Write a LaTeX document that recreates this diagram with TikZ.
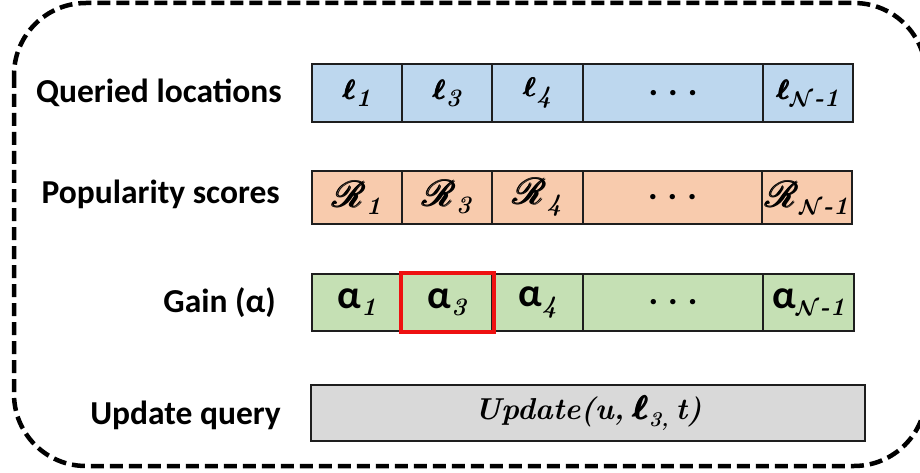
\documentclass[tikz,border=0pt]{standalone}
\usepackage{amsmath,amssymb}
\usepackage{mathrsfs}
\usepackage{graphicx}
\usepackage{fontspec}
\newfontfamily\calib{Carlito}

\definecolor{qblue}{HTML}{BDD7EE}
\definecolor{porange}{HTML}{F8CBAD}
\definecolor{ggreen}{HTML}{C5E0B4}
\definecolor{ugray}{HTML}{D9D9D9}
\definecolor{cellline}{HTML}{1E1E1E}
\definecolor{hilite}{HTML}{EE1111}

% cell glyphs
\newcommand{\bell}{\scalebox{1.3}{\fontsize{20.74}{24}\selectfont$\pmb{\boldsymbol{\ell}}$}}
\newcommand{\scrR}{\scalebox{1.75}{\fontsize{20.74}{24}\selectfont$\pmb{\mathscr{R}}$}}
\newcommand{\cellalpha}{{\calib\bfseries\fontsize{40}{42}\selectfont α}}
\newcommand{\cellsub}[1]{\raisebox{-7pt}{\scalebox{1.45}{\fontsize{17.28}{19}\selectfont\bfseries\itshape #1}}}
\newcommand{\nidx}{\scalebox{0.85}{$\boldsymbol{\mathcal{N}}$}\kern0.5pt-1}
\newcommand{\threedots}{{\calib\bfseries\fontsize{36}{38}\selectfont .\hspace{10pt}.\hspace{10pt}.}}

\tikzset{
  rowlabel/.style={anchor=east, font=\calib\bfseries\fontsize{33.5}{36}\selectfont, inner sep=0pt},
  cellbox/.style={draw=cellline, line width=1.6pt, inner sep=0pt, anchor=center},
  locrow/.style={cellbox, fill=qblue, minimum height=58pt},
  poprow/.style={cellbox, fill=porange, minimum height=53pt},
  gainrow/.style={cellbox, fill=ggreen, minimum height=57pt},
  updrow/.style={cellbox, fill=ugray, minimum height=56pt},
  frame/.style={line width=4.5pt, dash pattern=on 13pt off 6pt, rounded corners=72pt},
  pick/.style={draw=hilite, line width=3.8pt}
}

\begin{document}
\begin{tikzpicture}[x=1pt,y=-1pt]
\useasboundingbox (0,0) rectangle (920,473);

% outer dashed frame
\draw[frame] (14,3) rectangle (926,466);

% row labels
\node[rowlabel] (lq) at (282,93)  {Queried locations};
\node[rowlabel] (lp) at (280,194) {Popularity scores};
\node[rowlabel] (lg) at (276,303) {Gain (α)};
\node[rowlabel] (lu) at (281,415) {Update query};

% queried locations
\node[locrow, minimum width=90pt]  (l1) at (357,93)   {\bell\cellsub{1}};
\node[locrow, minimum width=90pt]  (l3) at (447,93)   {\bell\cellsub{3}};
\node[locrow, minimum width=91pt]  (l4) at (537.5,93) {\bell\cellsub{4}};
\node[locrow, minimum width=180pt] (ld) at (673,93)   {\threedots};
\node[locrow, minimum width=90pt]  (ln) at (808,93)   {\bell\cellsub{\nidx}};

% popularity scores
\node[poprow, minimum width=90pt]  (p1) at (357,197.5)   {\scrR\cellsub{1}};
\node[poprow, minimum width=90pt]  (p3) at (447,197.5)   {\scrR\cellsub{3}};
\node[poprow, minimum width=91pt]  (p4) at (537.5,197.5) {\scrR\cellsub{4}};
\node[poprow, minimum width=179pt] (pd) at (672.5,197.5) {\threedots};
\node[poprow, minimum width=90pt]  (pn) at (807,197.5)   {\scrR\cellsub{\nidx}};

% gain
\node[gainrow, minimum width=90pt]  (a1) at (357,302.5)   {\cellalpha\cellsub{1}};
\node[gainrow, minimum width=90pt]  (a3) at (447,302.5)   {\cellalpha\cellsub{3}};
\node[gainrow, minimum width=91pt]  (a4) at (537.5,302.5) {\cellalpha\cellsub{4}};
\node[gainrow, minimum width=180pt] (ad) at (673,302.5)   {\threedots};
\node[gainrow, minimum width=91pt]  (an) at (808.5,302.5) {\cellalpha\cellsub{\nidx}};
\draw[pick] ([xshift=-0.5pt]a3.south west) rectangle ([xshift=1pt,yshift=0.5pt]a3.north east);

% update query
\node[updrow, minimum width=554pt] (uq) at (588,413)
  {\scalebox{1.75}{\bfseries\itshape\fontsize{17.28}{19}\selectfont Update(u,\kern5pt\scalebox{0.7}{\bell}\raisebox{-4pt}{\fontsize{12}{14}\selectfont\itshape 3,}\kern4pt t)}};
\end{tikzpicture}
\end{document}
